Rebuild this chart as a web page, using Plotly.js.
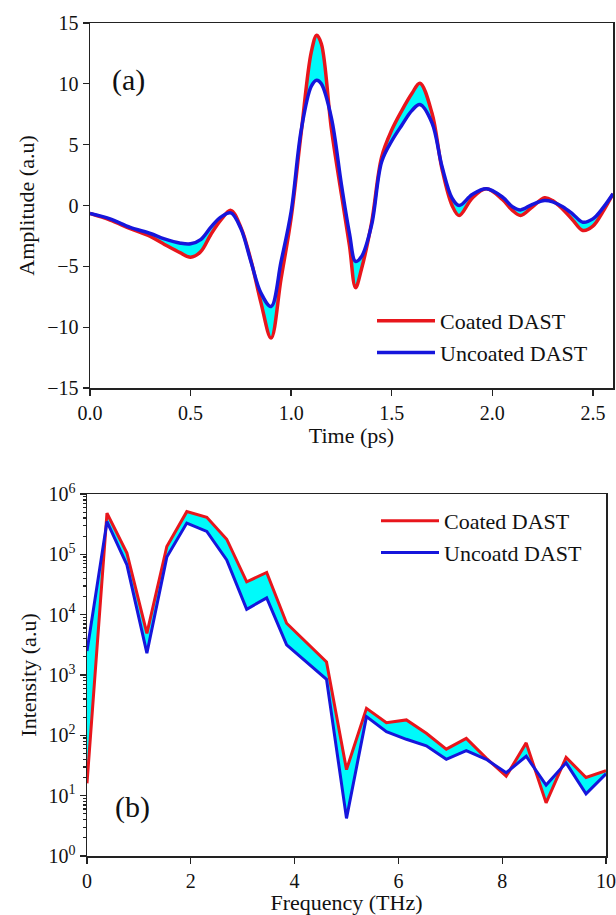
<!DOCTYPE html>
<html>
<head>
<meta charset="utf-8">
<script src="https://cdn.plot.ly/plotly-3.0.1.min.js"></script>
<style>
  html, body { margin: 0; padding: 0; background: #ffffff; }
  #chart { width: 616px; height: 915px; }
</style>
</head>
<body>
<div id="chart"></div>
<script>
// ---- Panel (a): time-domain signal ----
const time = [0, 0.1, 0.2, 0.3, 0.37, 0.45, 0.5, 0.55, 0.6, 0.65, 0.7, 0.75, 0.8, 0.85, 0.9, 0.95,
  1.0, 1.05, 1.1, 1.127, 1.15, 1.2, 1.25, 1.29, 1.32, 1.35, 1.4, 1.45, 1.5, 1.55, 1.6, 1.64,
  1.7, 1.75, 1.8, 1.835, 1.9, 1.97, 2.05, 2.1, 2.14, 2.2, 2.26, 2.3, 2.35, 2.4, 2.45, 2.5, 2.55, 2.6];
const coatedAmp = [-0.66, -1.2, -1.9, -2.55, -3.2, -3.9, -4.25, -3.8, -2.4, -1.2, -0.4, -1.8, -4.5, -8.0, -10.9, -6.0,
  -1.0, 6.0, 12.6, 14.0, 13.3, 6.3, 0.9, -3.3, -6.75, -5.2, -1.4, 4.0, 6.2, 7.8, 9.2, 10.05,
  7.6, 3.0, 0.0, -0.82, 0.6, 1.37, 0.5, -0.4, -0.82, -0.1, 0.63, 0.4, -0.3, -1.2, -2.05, -1.7, -0.5, 0.96];
const uncoatedAmp = [-0.66, -1.1, -1.8, -2.3, -2.75, -3.1, -3.15, -2.8, -1.8, -0.96, -0.6, -1.9, -4.6, -7.2, -8.3, -4.6,
  -0.5, 6.2, 9.8, 10.3, 10.0, 7.2, 1.7, -2.3, -4.6, -4.2, -1.6, 3.6, 5.3, 6.6, 7.8, 8.3,
  6.8, 3.2, 0.6, 0.0, 0.9, 1.37, 0.7, -0.1, -0.36, 0.1, 0.41, 0.3, -0.1, -0.7, -1.37, -1.1, -0.2, 0.96];
const timeTicks = [0, 0.5, 1.0, 1.5, 2.0, 2.5];
const ampTicks = [-15, -10, -5, 0, 5, 10, 15];

// ---- Panel (b): frequency spectrum ----
const freq = [0, 0.385, 0.769, 1.154, 1.538, 1.923, 2.308, 2.692, 3.077, 3.462, 3.846, 4.231, 4.615,
  5.0, 5.385, 5.769, 6.154, 6.538, 6.923, 7.308, 7.692, 8.077, 8.462, 8.846, 9.231, 9.615, 10.0];
const coatedSpec = [16, 480000, 105000, 4900, 135000, 510000, 410000, 178000, 35000, 50000, 7200, 3500, 1650,
  27, 280, 162, 180, 108, 59, 89, 42, 21, 75, 7.6, 43, 20, 26];
const uncoatedSpec = [2500, 350000, 67000, 2300, 90000, 330000, 240000, 81000, 12300, 19000, 3150, 1650, 850,
  4.2, 204, 115, 86, 67, 40, 56, 40, 24, 45, 15, 35, 10.7, 23];
const freqTicks = [0, 2, 4, 6, 8, 10];
const intTickVals = [1, 10, 100, 1000, 10000, 100000, 1000000];
const intTickText = ['10<sup>0</sup>', '10<sup>1</sup>', '10<sup>2</sup>', '10<sup>3</sup>', '10<sup>4</sup>', '10<sup>5</sup>', '10<sup>6</sup>'];

const FONT = "Times New Roman, 'Liberation Serif', 'DejaVu Serif', serif";
const RED = 'rgb(232,22,28)';
const BLUE = 'rgb(22,22,220)';
const CYAN = 'rgb(0,250,250)';

const traces = [
  {x: time, y: coatedAmp, mode: 'lines', line: {width: 0, shape: 'spline', color: RED},
   showlegend: false, hoverinfo: 'skip', xaxis: 'x', yaxis: 'y'},
  {x: time, y: uncoatedAmp, mode: 'lines', fill: 'tonexty', fillcolor: CYAN,
   line: {width: 0, shape: 'spline', color: BLUE}, showlegend: false, hoverinfo: 'skip', xaxis: 'x', yaxis: 'y'},
  {x: time, y: coatedAmp, mode: 'lines', name: 'Coated DAST', line: {width: 3.5, shape: 'spline', color: RED},
   xaxis: 'x', yaxis: 'y', legend: 'legend'},
  {x: time, y: uncoatedAmp, mode: 'lines', name: 'Uncoated DAST', line: {width: 3.5, shape: 'spline', color: BLUE},
   xaxis: 'x', yaxis: 'y', legend: 'legend'},

  {x: freq, y: coatedSpec, mode: 'lines', line: {width: 0, color: RED},
   showlegend: false, hoverinfo: 'skip', xaxis: 'x2', yaxis: 'y2'},
  {x: freq, y: uncoatedSpec, mode: 'lines', fill: 'tonexty', fillcolor: CYAN, line: {width: 0, color: BLUE},
   showlegend: false, hoverinfo: 'skip', xaxis: 'x2', yaxis: 'y2'},
  {x: freq, y: coatedSpec, mode: 'lines', name: 'Coated DAST', line: {width: 3, color: RED},
   xaxis: 'x2', yaxis: 'y2', legend: 'legend2'},
  {x: freq, y: uncoatedSpec, mode: 'lines', name: 'Uncoatd DAST', line: {width: 3, color: BLUE},
   xaxis: 'x2', yaxis: 'y2', legend: 'legend2'}
];

const axisCommon = {
  showline: true, mirror: true, linecolor: '#222', linewidth: 1.5,
  ticks: 'outside', ticklen: 6, tickwidth: 1.3, tickcolor: '#222',
  showgrid: false, zeroline: false,
  tickfont: {family: FONT, size: 20, color: '#111'}
};

const layout = {
  width: 616, height: 915,
  margin: {l: 0, r: 0, t: 0, b: 0},
  paper_bgcolor: '#ffffff', plot_bgcolor: '#ffffff',
  font: {family: FONT, color: '#111'},
  xaxis: Object.assign({}, axisCommon, {
    domain: [90 / 616, 613 / 616], anchor: 'y', range: [0, 2.6],
    tickvals: timeTicks, tickformat: '.1f',
    title: {text: 'Time (ps)', font: {family: FONT, size: 22, color: '#111'}, standoff: 2}
  }),
  yaxis: Object.assign({}, axisCommon, {
    domain: [1 - 388 / 915, 1 - 23 / 915], anchor: 'x', range: [-15, 15],
    tickvals: ampTicks,
    title: {text: 'Amplitude (a.u)', font: {family: FONT, size: 22, color: '#111'}, standoff: 6}
  }),
  xaxis2: Object.assign({}, axisCommon, {
    domain: [87 / 616, 606 / 616], anchor: 'y2', range: [0, 10],
    tickvals: freqTicks,
    title: {text: 'Frequency (THz)', font: {family: FONT, size: 22, color: '#111'}, standoff: 2}
  }),
  yaxis2: Object.assign({}, axisCommon, {
    domain: [1 - 856 / 915, 1 - 494 / 915], anchor: 'x2', type: 'log', range: [0, 6],
    tickvals: intTickVals, ticktext: intTickText,
    minor: {ticks: 'outside', ticklen: 3, tickcolor: '#222', dtick: 'D1'},
    title: {text: 'Intensity (a.u)', font: {family: FONT, size: 22, color: '#111'}, standoff: 6}
  }),
  legend: {
    x: 372 / 616, y: 1 - 300 / 915, xanchor: 'left', yanchor: 'top', traceorder: 'normal',
    bgcolor: 'rgba(0,0,0,0)', font: {family: FONT, size: 22, color: '#111'}, itemwidth: 58
  },
  legend2: {
    x: 376 / 616, y: 1 - 500 / 915, xanchor: 'left', yanchor: 'top', traceorder: 'normal',
    bgcolor: 'rgba(0,0,0,0)', font: {family: FONT, size: 22, color: '#111'}, itemwidth: 58
  },
  annotations: [
    {text: '(a)', xref: 'paper', yref: 'paper', x: 128 / 616, y: 1 - 80 / 915,
     xanchor: 'center', yanchor: 'middle', showarrow: false, font: {family: FONT, size: 30, color: '#111'}},
    {text: '(b)', xref: 'paper', yref: 'paper', x: 132 / 616, y: 1 - 807 / 915,
     xanchor: 'center', yanchor: 'middle', showarrow: false, font: {family: FONT, size: 30, color: '#111'}}
  ],
  showlegend: true
};

Plotly.newPlot('chart', traces, layout, {displayModeBar: false, staticPlot: true});
</script>
</body>
</html>
